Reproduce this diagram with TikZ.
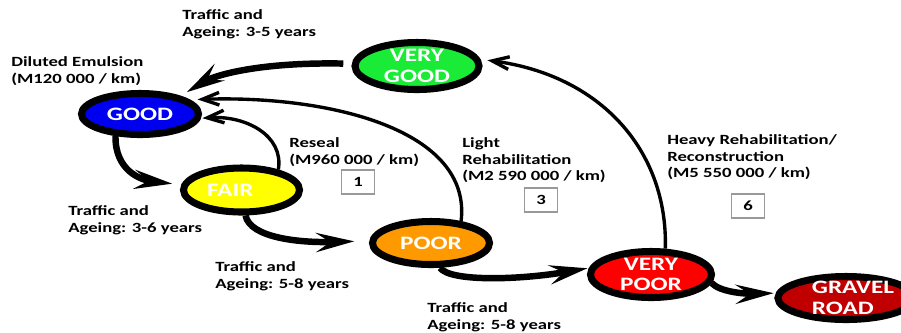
\documentclass[tikz,border=0pt]{standalone}
\usepackage{fontspec}
\setmainfont{Carlito}[FakeStretch=1.33]
\usetikzlibrary{shapes.geometric,arrows.meta}
\definecolor{cvg}{RGB}{25,235,55}
\definecolor{cgood}{RGB}{0,0,240}
\definecolor{cfair}{RGB}{255,255,0}
\definecolor{cpoor}{RGB}{255,153,0}
\definecolor{cvp}{RGB}{255,0,0}
\definecolor{cgr}{RGB}{192,0,0}
\begin{document}
\begin{tikzpicture}[x=0.025cm,y=-0.025cm,
  state/.style={ellipse,draw=black,line width=5pt,inner xsep=0pt,inner ysep=-2pt,text=white,
    font=\fontsize{13.5}{14.5}\selectfont\bfseries,align=center},
  lbl/.style={anchor=north west,inner sep=0pt,align=left,
    font=\fontsize{10}{12}\selectfont\bfseries},
  costbox/.style={draw=black!40,line width=0.8pt,fill=white,minimum width=0.825cm,
    minimum height=0.6cm,inner sep=0pt,font=\fontsize{10}{12}\selectfont\bfseries},
  bigarrow/.style={line width=4.6pt,-{Stealth[length=27pt,width=13.5pt,inset=10pt]}},
  thinarrow/.style={line width=2.4pt,-{Straight Barb[length=12pt,width=9pt]}}]
\useasboundingbox (0,0) rectangle (901,332);

% states
\node[state,fill=cvg,minimum width=3.1cm,minimum height=1.175cm] (vg) at (417,66) {VERY\\GOOD};
\node[state,fill=cgood,minimum width=2.925cm,minimum height=1.025cm] (good) at (140,114) {GOOD};
\node[state,fill=cfair,minimum width=2.9cm,minimum height=1.1cm] (fair) at (241.5,190) {FAIR\kern16pt};
\node[state,fill=cpoor,minimum width=2.925cm,minimum height=1.075cm] (poor) at (431,243) {POOR};
\node[state,fill=cvp,minimum width=3.025cm,minimum height=1.15cm] (vp) at (651,274.5) {VERY\\POOR};
\node[state,fill=cgr,minimum width=2.875cm,minimum height=1.075cm,align=left] (gr) at (846,298) {\kern10pt GRAVEL\\\kern10pt ROAD};

% labels
\node[lbl] (t35) at (182,9) {Traffic and\\Ageing: 3-5 years};
\node[lbl] (dil) at (11,56) {Diluted Emulsion\\(M120 000 / km)};
\node[lbl] (res) at (289,137) {Reseal\\(M960 000 / km)};
\node[lbl] (lig) at (462,137) {Light\\Rehabilitation\\(M2 590 000 / km)};
\node[lbl] (hea) at (667,134) {Heavy Rehabilitation/\\Reconstruction\\(M5 550 000 / km)};
\node[lbl] (t36) at (68,205) {Traffic and\\Ageing: 3-6 years};
\node[lbl] (t58a) at (215,261) {Traffic and\\Ageing: 5-8 years};
\node[lbl] (t58b) at (427,302) {Traffic and\\Ageing: 5-8 years};

% cost boxes
\node[costbox] (b1) at (358,182) {1};
\node[costbox] (b3) at (541,200) {3};
\node[costbox] (b6) at (748,206) {6};

% deterioration arrows
\draw[bigarrow,shorten <=6pt,shorten >=5pt] (vg.178) .. controls (260,62) and (215,75) .. (good.24);
\draw[bigarrow,shorten >=6.4pt] (good.222) .. controls (115,170) and (140,180) .. (fair.175);
\draw[bigarrow,shorten >=10.6pt] (fair.-81) .. controls (250,238) and (300,243) .. (poor.178);
\draw[bigarrow,shorten >=1pt] (poor.-70) .. controls (450,282) and (520,280) .. (vp.174);
\draw[bigarrow,shorten >=1.4pt] (vp.-8) .. controls (720,292) and (745,294) .. (gr.176);

% treatment arrows
\draw[thinarrow,shorten >=1pt] (fair.29) .. controls (284,135) and (245,115) .. (good.-4.5);
\draw[thinarrow,shorten >=5.5pt] (poor.36) .. controls (472,130) and (330,95) .. (good.16.6);
\draw[thinarrow,shorten >=5pt] (vp.61) .. controls (668,150) and (600,75) .. (vg.6.5);
\end{tikzpicture}
\end{document}
